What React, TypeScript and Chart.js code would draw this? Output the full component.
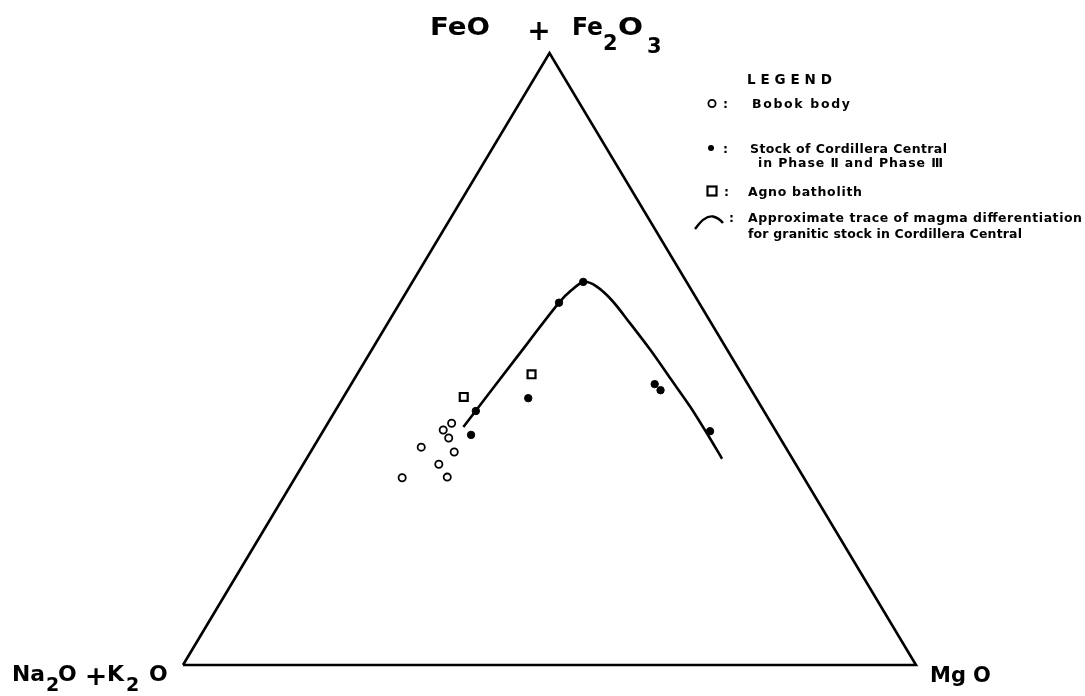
import React, { useEffect, useRef } from "react";
import { Chart, registerables } from "chart.js";

Chart.register(...registerables);

// Ternary compositions in wt% : FeO+Fe2O3 (apex), Na2O+K2O (left), MgO (right)
const bobokFeO = [39.5, 38.4, 37.1, 35.6, 34.8, 32.8, 30.6, 30.7];
const bobokMgO = [16.9, 16.3, 17.7, 14.7, 19.6, 18.5, 14.6, 20.7];
const bobokAlk = [43.6, 45.3, 45.2, 49.7, 45.6, 48.7, 54.8, 48.6];

const stockFeO = [37.6, 43.6, 41.5, 59.2, 62.6, 45.9, 44.9, 38.2];
const stockMgO = [20.5, 25.3, 19.2, 21.7, 23.3, 41.4, 42.7, 52.8];
const stockAlk = [41.9, 31.1, 39.3, 19.1, 14.1, 12.7, 12.4, 9.0];

const agnoFeO = [43.8, 47.5];
const agnoMgO = [16.4, 23.8];
const agnoAlk = [39.8, 28.7];

// Approximate differentiation trend of the granitic stocks
const trendFeO = [38.9, 50.3, 59.2, 61.3, 62.6, 61.9, 59.6, 55.9, 51.5, 46.9, 42.2, 37.9, 33.7];
const trendMgO = [18.8, 20.4, 21.7, 22.4, 23.4, 25.4, 28.7, 33.0, 38.0, 43.0, 48.1, 52.5, 56.7];
const trendAlk = [42.3, 29.3, 19.1, 16.3, 14.0, 12.7, 11.7, 11.1, 10.5, 10.1, 9.7, 9.6, 9.6];

// Triangle corners: Na2O+K2O, MgO, FeO+Fe2O3, closing back
const cornerFeO = [0, 0, 100, 0];
const cornerMgO = [0, 100, 0, 0];
const cornerAlk = [100, 0, 0, 100];

const legendTitle = "LEGEND";
const legendItems = [
  "Bobok  body",
  "Stock of Cordillera  Central",
  "in Phase \u2161 and Phase \u2162",
  "Agno  batholith",
  "Approximate  trace  of  magma  differentiation",
  "for  granitic stock in  Cordillera  Central",
];

function toXY(feo: number[], mgo: number[], alk: number[]) {
  return feo.map((f, i) => {
    const s = f + mgo[i] + alk[i];
    return { x: (mgo[i] + f / 2) / s, y: f / s };
  });
}

const FONT = "'DejaVu Sans', 'Liberation Sans', sans-serif";

export default function App() {
  const ref = useRef<HTMLCanvasElement | null>(null);

  useEffect(() => {
    if (!ref.current) return;
    const chart = new Chart(ref.current, {
      type: "scatter",
      data: {
        datasets: [
          {
            label: "Stock of Cordillera Central",
            data: toXY(stockFeO, stockMgO, stockAlk),
            pointStyle: "circle",
            pointRadius: 3.7,
            backgroundColor: "#000",
            borderColor: "#000",
            borderWidth: 1,
            clip: false,
          },
          {
            label: "Bobok body",
            data: toXY(bobokFeO, bobokMgO, bobokAlk),
            pointStyle: "circle",
            pointRadius: 3.6,
            backgroundColor: "#fff",
            borderColor: "#000",
            borderWidth: 1.8,
            clip: false,
          },
          {
            label: "Agno batholith",
            data: toXY(agnoFeO, agnoMgO, agnoAlk),
            pointStyle: "rect",
            pointRadius: 5.6,
            backgroundColor: "#fff",
            borderColor: "#000",
            borderWidth: 2.2,
            clip: false,
          },
          {
            type: "line",
            label: "trend",
            data: toXY(trendFeO, trendMgO, trendAlk),
            borderColor: "#000",
            borderWidth: 2.6,
            pointRadius: 0,
            tension: 0.3,
            fill: false,
            clip: false,
          } as any,
          {
            type: "line",
            label: "frame",
            data: toXY(cornerFeO, cornerMgO, cornerAlk),
            borderColor: "#000",
            borderWidth: 2.6,
            pointRadius: 0,
            tension: 0,
            borderJoinStyle: "miter",
            fill: false,
            clip: false,
          } as any,
        ],
      },
      options: {
        animation: false,
        responsive: false,
        events: [],
        layout: { padding: { left: 183, right: 169, top: 53, bottom: 31 } },
        scales: {
          x: { type: "linear", min: 0, max: 1, display: false },
          y: { type: "linear", min: 0, max: 1, display: false },
        },
        plugins: { legend: { display: false }, tooltip: { enabled: false } },
      },
    });
    return () => chart.destroy();
  }, []);

  const legendText = { fontFamily: FONT, fontWeight: 700, fontSize: 12.5, fill: "#000" } as const;
  const big = { fontFamily: FONT, fontWeight: 700, fill: "#000" } as const;

  return (
    <div style={{ position: "fixed", left: 0, top: 0, width: 1085, height: 696, background: "#fff" }}>
      <canvas ref={ref} width={1085} height={696} style={{ position: "absolute", left: 0, top: 0 }} />
      <svg
        width={1085}
        height={696}
        style={{ position: "absolute", left: 0, top: 0, pointerEvents: "none" }}
      >
        {/* apex label: FeO + Fe2O3 */}
        <text x={430} y={35} fontSize={25} style={big} textLength={60} lengthAdjust="spacingAndGlyphs">FeO</text>
        <text x={539} y={40} fontSize={28} style={big} textAnchor="middle">+</text>
        <text x={572} y={35} fontSize={25} style={big} textLength={31} lengthAdjust="spacingAndGlyphs">Fe</text>
        <text x={603} y={50} fontSize={21} style={big}>2</text>
        <text x={618} y={35} fontSize={25} style={big} textLength={25} lengthAdjust="spacingAndGlyphs">O</text>
        <text x={647} y={53} fontSize={21} style={big}>3</text>

        {/* left corner label: Na2O + K2O */}
        <text x={12} y={681} fontSize={22} style={big} textLength={33} lengthAdjust="spacingAndGlyphs">Na</text>
        <text x={46} y={691} fontSize={19} style={big}>2</text>
        <text x={58} y={681} fontSize={22} style={big}>O</text>
        <text x={96} y={685} fontSize={27} style={big} textAnchor="middle">+</text>
        <text x={107} y={681} fontSize={22} style={big}>K</text>
        <text x={126} y={691} fontSize={19} style={big}>2</text>
        <text x={149} y={681} fontSize={22} style={big}>O</text>

        {/* right corner label: MgO */}
        <text x={930} y={682} fontSize={21} style={big}>Mg</text>
        <text x={973} y={682} fontSize={21} style={big}>O</text>

        {/* legend */}
        <text x={747} y={84} style={{ fontFamily: FONT, fontWeight: 600, fontSize: 13.5, fill: "#000" }} textLength={85} lengthAdjust="spacing">
          {legendTitle}
        </text>

        <circle cx={712} cy={103.5} r={3.6} fill="#fff" stroke="#000" strokeWidth={1.8} />
        <text x={723} y={108} style={legendText}>:</text>
        <text x={752} y={108} style={legendText} textLength={98} lengthAdjust="spacing">{legendItems[0]}</text>

        <circle cx={711} cy={148} r={3} fill="#000" />
        <text x={723} y={153} style={legendText}>:</text>
        <text x={750} y={153} style={legendText} textLength={197} lengthAdjust="spacing">{legendItems[1]}</text>
        <text x={758} y={167} style={legendText} textLength={185} lengthAdjust="spacing">{legendItems[2]}</text>

        <rect x={707.5} y={186.5} width={9} height={9} fill="#fff" stroke="#000" strokeWidth={2.2} />
        <text x={724} y={196} style={legendText}>:</text>
        <text x={748} y={196} style={legendText} textLength={114} lengthAdjust="spacing">{legendItems[3]}</text>

        <path d="M695,229 Q705,215 713,216.5 Q719,218 723,223" fill="none" stroke="#000" strokeWidth={2.4} />
        <text x={729} y={222} style={legendText}>:</text>
        <text x={748} y={222} style={legendText} textLength={334} lengthAdjust="spacing">{legendItems[4]}</text>
        <text x={748} y={238} style={legendText} textLength={274} lengthAdjust="spacing">{legendItems[5]}</text>
      </svg>
    </div>
  );
}
